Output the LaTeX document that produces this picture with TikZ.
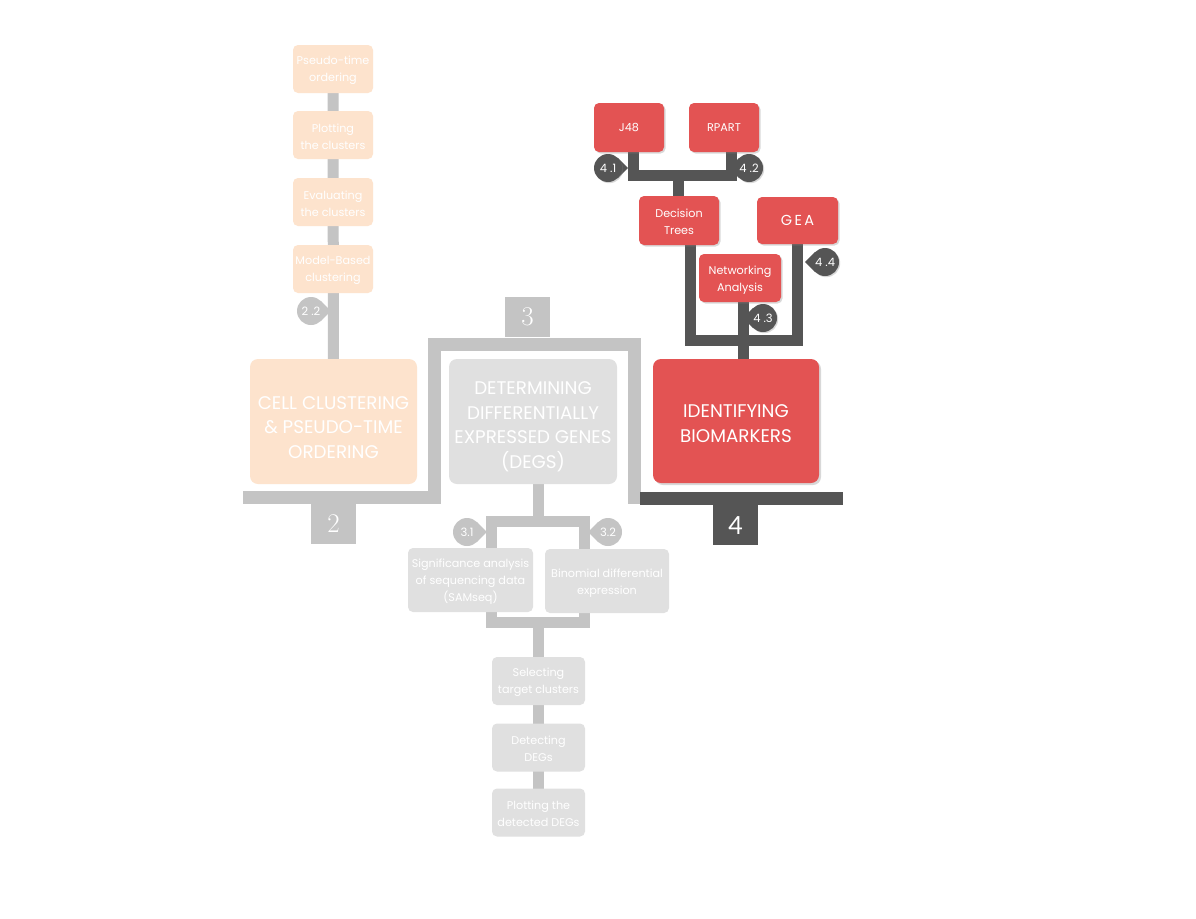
\documentclass[tikz,border=0pt]{standalone}
\usepackage{fontspec}
\setsansfont{Poppins}
\newfontfamily\numsans{Lato}
\usetikzlibrary{shadows}
\pgfdeclarelayer{back}
\pgfdeclarelayer{bg}
\pgfsetlayers{back,bg,main}
\definecolor{orangeF}{HTML}{FDE3CD}
\definecolor{greyF}{HTML}{E0E0E0}
\definecolor{barG}{HTML}{C4C4C4}
\definecolor{darkG}{HTML}{555555}
\definecolor{redF}{HTML}{E35353}
\newcommand{\tear}[3]{\fill[#3] (#1) -- ++(#2-45:14) -- ++(#2+45:14) -- ++(#2+135:14) -- cycle;}
\newcommand{\topstrut}[1]{\rule{0pt}{#1}}
\begin{document}
\begin{tikzpicture}[x=1pt,y=-1pt,
  box/.style={rounded corners=5pt, text=white, align=center, inner sep=0pt,
    font=\sffamily\fontsize{11.2}{17}\selectfont},
  obox/.style={box, fill=orangeF, minimum width=80pt, minimum height=48pt},
  gbox/.style={box, fill=greyF},
  rbox/.style={box, fill=redF, drop shadow={shadow xshift=1.5pt, shadow yshift=-1.5pt, opacity=0.3}},
  bigbox/.style={rounded corners=8pt, text=white, align=center, inner sep=0pt,
    minimum height=125pt, font=\sffamily\fontsize{18.3}{24.5}\selectfont},
  graybar/.style={draw=barG, line width=11pt},
  darkbar/.style={draw=darkG, line width=11pt},
  framebar/.style={draw=barG, line width=13pt, line join=miter},
  badgeG/.style={circle, fill=barG, minimum size=28pt, inner sep=0pt, text=white,
    font=\sffamily\fontsize{11.5}{12}\selectfont},
  badgeD/.style={badgeG, fill=darkG, drop shadow={shadow xshift=1.2pt, shadow yshift=-1.2pt, opacity=0.3}},
  tab/.style={inner sep=0pt, minimum width=45pt, minimum height=41pt, text=white}
]
\useasboundingbox (0,0) rectangle (1196,918);
\begin{pgfonlayer}{back}
\fill[white] (0,0) rectangle (1196,918);
\end{pgfonlayer}

% ---------- section 2 ----------
\node[obox] (o1) at (333,69) {\topstrut{12pt}Pseudo-time\\ordering};
\node[obox] (o2) at (333,135) {\topstrut{12pt}Plotting\\the clusters};
\node[obox] (o3) at (333,202) {\topstrut{12pt}Evaluating\\the clusters};
\node[obox] (o4) at (333,269) {\topstrut{12pt}Model-Based\\clustering};
\node[bigbox, fill=orangeF, minimum width=167pt] (cell) at (333.5,421.5) {\topstrut{25pt}CELL CLUSTERING\\\&\ PSEUDO-TIME\\ORDERING};
\coordinate (c22) at (311,311);
\node[badgeG] (b22) at (c22) {2 .2};

% ---------- section 3 ----------
\node[bigbox, fill=greyF, minimum width=168pt] (degs) at (533,421.5) {\topstrut{23pt}DETERMINING\\DIFFERENTIALLY\\EXPRESSED GENES\\(DEGS)};
\node[gbox, minimum width=125pt, minimum height=64pt] (sam) at (470.5,580) {\topstrut{12pt}Significance analysis\\of sequencing data\\(SAMseq)};
\node[gbox, minimum width=124pt, minimum height=64pt] (binom) at (607,581) {\topstrut{12pt}Binomial differential\\expression};
\node[gbox, minimum width=93pt, minimum height=48pt] (sel) at (538.5,681) {\topstrut{12pt}Selecting\\target clusters};
\node[gbox, minimum width=93pt, minimum height=48pt] (det) at (538.5,747.5) {\topstrut{12pt}Detecting\\DEGs};
\node[gbox, minimum width=93pt, minimum height=48pt] (pdeg) at (538.5,812.5) {\topstrut{12pt}Plotting the\\detected DEGs};
\coordinate (c31) at (467,532);
\coordinate (c32) at (608,532);
\node[badgeG] (b31) at (c31) {3.1};
\node[badgeG] (b32) at (c32) {3.2};

% ---------- section 4 ----------
\node[rbox, minimum width=70pt, minimum height=49pt] (j48) at (629,127.5) {J48};
\node[rbox, minimum width=70pt, minimum height=49pt] (rpart) at (724,127.5) {RPART};
\node[rbox, minimum width=80pt, minimum height=49pt] (dt) at (679,220.5) {\topstrut{12pt}Decision\\Trees};
\node[rbox, minimum width=81pt, minimum height=47pt, font=\sffamily\fontsize{14.5}{15}\selectfont] (gea) at (797.5,220.5) {G\,E\,A};
\node[rbox, minimum width=82pt, minimum height=48pt] (net) at (740,278) {\topstrut{12pt}Networking\\Analysis};
\node[bigbox, fill=redF, minimum width=166pt, minimum height=124pt,
  drop shadow={shadow xshift=2pt, shadow yshift=-2pt, opacity=0.3}] (bio) at (736,421) {\topstrut{18pt}IDENTIFYING\\BIOMARKERS};
\coordinate (c41) at (608,168);
\coordinate (c42) at (749,168);
\coordinate (c43) at (763,318);
\coordinate (c44) at (825,262);
\node[badgeD] (b41) at (c41) {4 .1};
\node[badgeD] (b42) at (c42) {4 .2};
\node[badgeD] (b43) at (c43) {4 .3};
\node[badgeD] (b44) at (c44) {4 .4};

% frame and tabs
\coordinate (f1) at (243,497);
\coordinate (f2) at (434,497);
\coordinate (f3) at (434,344);
\coordinate (f4) at (634,344);
\coordinate (f5) at (634,503.5);
\coordinate (g1) at (640,498.5);
\coordinate (g2) at (843,498.5);
\node[tab, fill=barG, font=\rmfamily\fontsize{27}{27}\selectfont, anchor=north] (t2) at (333.5,503) {2};
\node[tab, fill=barG, font=\rmfamily\fontsize{27}{27}\selectfont, anchor=south, minimum height=40pt] (t3) at (527.5,337) {3};
\node[tab, fill=darkG, font=\numsans\fontsize{25}{25}\selectfont, anchor=north, minimum height=40pt] (t4) at (735.5,505) {4};

\coordinate (j3t) at (538,521.5);
\coordinate (j3a) at (491.5,521.5);
\coordinate (j3b) at (584,622);
\coordinate (k1) at (633,175.5);
\coordinate (k2) at (731,175.5);
\coordinate (k3) at (678.5,175.5);
\coordinate (m1) at (690.5,340.5);
\coordinate (m2) at (797.5,340.5);
\coordinate (m3) at (743.5,340.5);

\begin{pgfonlayer}{bg}
  % section 2 connector
  \draw[graybar] (o1.center) -- (cell.center);
  % frame
  \draw[framebar] (f1) -- (f2) -- (f3) -- (f4) -- (f5);
  \draw[draw=darkG, line width=13pt] (g1) -- (g2);
  % section 3 connectors
  \draw[graybar] (degs.south -| j3t) -- (j3t);
  \draw[graybar, line join=miter] (j3a) rectangle (j3b);
  \draw[graybar] (sel.north |- j3b) -- (pdeg.center);
  % section 4 connectors
  \tear{c41}{0}{black, opacity=0.3, xshift=1.2pt, yshift=-1.2pt}
  \tear{c42}{180}{black, opacity=0.3, xshift=1.2pt, yshift=-1.2pt}
  \tear{c43}{180}{black, opacity=0.3, xshift=1.2pt, yshift=-1.2pt}
  \tear{c44}{180}{black, opacity=0.3, xshift=1.2pt, yshift=-1.2pt}
  \draw[darkbar, line join=miter] (j48.south -| k1) -- (k1) -- (k2) -- (rpart.south -| k2);
  \draw[darkbar] (k3) -- (dt.north -| k3);
  \draw[darkbar, line join=miter] (dt.south -| m1) -- (m1) -- (m2) -- (gea.south -| m2);
  \draw[darkbar] (net.south -| m3) -- (bio.north -| m3);
  % badge tails
  \tear{c22}{0}{barG}
  \tear{c31}{0}{barG}
  \tear{c32}{180}{barG}
  \tear{c41}{0}{darkG}
  \tear{c42}{180}{darkG}
  \tear{c43}{180}{darkG}
  \tear{c44}{180}{darkG}
\end{pgfonlayer}
\end{tikzpicture}
\end{document}
